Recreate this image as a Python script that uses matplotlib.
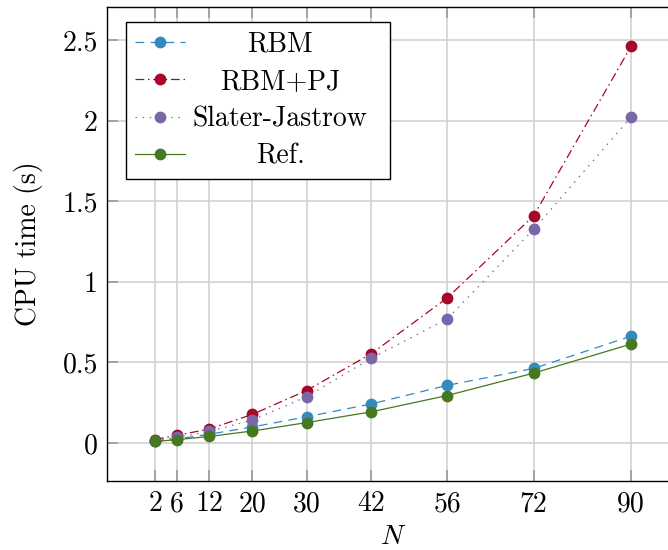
import matplotlib.pyplot as plt

plt.rcParams["font.family"] = "serif"
plt.rcParams["font.serif"] = ["cmr10"]
plt.rcParams["mathtext.fontset"] = "cm"
plt.rcParams["axes.unicode_minus"] = False
plt.rcParams["axes.formatter.use_mathtext"] = True

FONT_SIZE = 20

# CPU time (s) per system size N
N_VALUES = [2, 6, 12, 20, 30, 42, 56, 72, 90]
RBM = [0.012, 0.025, 0.055, 0.100, 0.163, 0.243, 0.358, 0.463, 0.663]
RBM_PJ = [0.022, 0.048, 0.087, 0.178, 0.326, 0.555, 0.900, 1.410, 2.460]
SLATER_JASTROW = [0.015, 0.035, 0.072, 0.143, 0.287, 0.527, 0.770, 1.326, 2.022]
REF = [0.010, 0.021, 0.041, 0.075, 0.127, 0.194, 0.295, 0.434, 0.614]

Y_TICKS = [0, 0.5, 1, 1.5, 2, 2.5]
Y_TICK_LABELS = ["0", "0.5", "1", "1.5", "2", "2.5"]

SERIES = [
    ("RBM", RBM, "#348ABD", (7, 5)),
    ("RBM+PJ", RBM_PJ, "#A60628", (7, 3, 1.2, 3)),
    ("Slater-Jastrow", SLATER_JASTROW, "#7A68A6", (1.2, 4.5)),
    ("Ref.", REF, "#467821", None),
]


def main() -> None:
    fig = plt.figure(figsize=(6.68, 5.5), dpi=100)
    ax = fig.add_axes([0.1609, 0.1255, 0.855, 0.8618])

    for label, values, color, dashes in SERIES:
        kwargs = {"dashes": dashes} if dashes else {"linestyle": "-"}
        ax.plot(N_VALUES, values, color=color, linewidth=0.9, marker="o",
                markersize=8.5, markeredgewidth=0, label=label, **kwargs)

    ax.set_xlim(-6.8, 98.8)
    ax.set_ylim(-0.235, 2.705)
    ax.set_xticks(N_VALUES)
    ax.set_xticklabels([str(n) for n in N_VALUES])
    ax.set_yticks(Y_TICKS)
    ax.set_yticklabels(Y_TICK_LABELS)

    ax.grid(True, color="#d2d2d2", linewidth=1.2)
    ax.set_axisbelow(True)
    ax.tick_params(direction="in", length=8, width=1.2, color="#9a9a9a",
                   top=True, right=True, labelsize=FONT_SIZE, pad=7)
    for spine in ax.spines.values():
        spine.set_linewidth(1.0)
        spine.set_color("black")

    ax.set_xlabel(r"$N$", fontsize=FONT_SIZE, labelpad=5)
    ax.set_ylabel("CPU time (s)", fontsize=FONT_SIZE, labelpad=14)

    leg = ax.legend(
        loc="upper left",
        bbox_to_anchor=(0.0324, 0.5, 0.4623, 0.468),
        mode="expand",
        borderaxespad=0,
        fontsize=FONT_SIZE,
        handlelength=1.8,
        handletextpad=0.28,
        borderpad=0.32,
        labelspacing=0.4,
        fancybox=False,
        framealpha=1,
        edgecolor="black",
    )
    leg.get_frame().set_linewidth(1.0)

    # pgfplots-style centred legend labels
    fig.canvas.draw()
    texts = leg.get_texts()
    widths = [t.get_window_extent().width for t in texts]
    max_w = max(widths)
    for t, w in zip(texts, widths):
        t.set_x((max_w - w) / 2)

    fig.savefig("out.png", dpi=100, facecolor="white")
    plt.close(fig)


if __name__ == "__main__":
    main()
